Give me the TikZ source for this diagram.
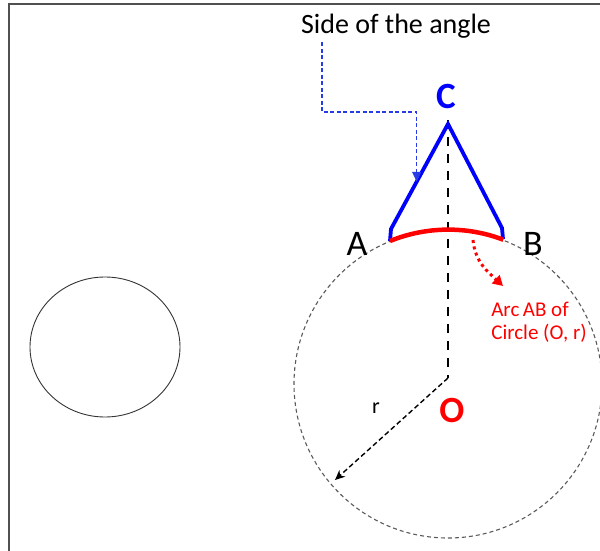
\documentclass[tikz,border=0pt]{standalone}
\usepackage{fontspec}
\setmainfont{Carlito}
\usetikzlibrary{arrows.meta,calc}
\definecolor{frameg}{RGB}{80,80,80}
\definecolor{cgray}{RGB}{90,90,90}
\definecolor{bblue}{RGB}{0,0,255}
\definecolor{cblue}{RGB}{40,60,230}
\definecolor{rred}{RGB}{255,0,0}
\tikzset{
  framel/.style={draw=frameg,line width=1.5pt},
  bigcirc/.style={draw=cgray,line width=1.1pt,dash pattern=on 4pt off 3pt},
  heightl/.style={draw=black,line width=2.8pt,dash pattern=on 9pt off 8pt},
  radl/.style={draw=black,line width=1.4pt,dash pattern=on 5pt off 3pt,-{Stealth[length=10pt,width=9pt]}},
  sidel/.style={draw=bblue,line width=3.8pt,line join=miter},
  arcl/.style={draw=rred,line width=4.5pt},
  bluecon/.style={draw=cblue,line width=1.4pt,dash pattern=on 4pt off 2.5pt,-{Triangle[length=10pt,width=9pt]}},
  redcon/.style={draw=rred,line width=3pt,dash pattern=on 3pt off 3.5pt,-{Triangle[length=10pt,width=11pt]}},
  ptlabel/.style={inner sep=0pt,font=\fontsize{37}{40}\selectfont\bfseries},
  abfont/.style={inner sep=0pt,font=\fontsize{36}{40}\selectfont},
}
\begin{document}
\begin{tikzpicture}[x=1pt,y=-1pt]
\useasboundingbox (0,0) rectangle (600,551);
% frame
\draw[framel] (600,4) -- (9,4) -- (9,551);
% small circle
\draw[draw=black!80,line width=0.9pt] (105,347) ellipse[x radius=75,y radius=70];
% key points
\coordinate (O) at (448,384);
\coordinate (Oe) at (448,378);
\coordinate (C) at (448,124);
\coordinate (A) at (390,241);
\coordinate (A1) at (391,229);
\coordinate (B) at (503,239);
\coordinate (B1) at (502,228);
\coordinate (R) at (335,480);
% big dashed circle
\draw[bigcirc] (O) circle[radius=154];
% height line
\draw[heightl] ([yshift=4pt]C) -- (Oe);
% radius arrow
\draw[radl] (Oe) -- (R);
% sides
\draw[sidel] (A) -- (A1) -- (C) -- (B1) -- (B);
% arc AB
\draw[arcl] (A) arc[start angle=-112.1, end angle=-69.2, radius=155];
% labels
\node[ptlabel,text=bblue] (Cl) at (446,96) {C};
\node[abfont] (Al) at (357,244) {A};
\node[abfont] (Bl) at (533,244) {B};
\node[ptlabel,text=rred] (Ol) at (452,410) {O};
\node[inner sep=0pt,font=\fontsize{22}{24}\selectfont] (rl) at (376,408) {r};
\node[inner sep=0pt,font=\fontsize{28}{30}\selectfont] (side) at (396,26) {Side of the angle};
\node[inner sep=0pt,align=left,text=rred,font=\fontsize{21}{23}\selectfont] (arclab) at (539,322) {Arc\,AB of\\Circle (O, r)};
% connectors
\coordinate (sideP) at ($(C)!0.55!(A1)$);
\draw[bluecon] (side.south west -| 322,0) ++(0,4) |- (sideP |- 0,112) -- (sideP);
\coordinate (arcP) at (473,240);
\draw[redcon] (arcP) .. controls (475,262) and (488,272) .. (503,286);
\end{tikzpicture}
\end{document}
